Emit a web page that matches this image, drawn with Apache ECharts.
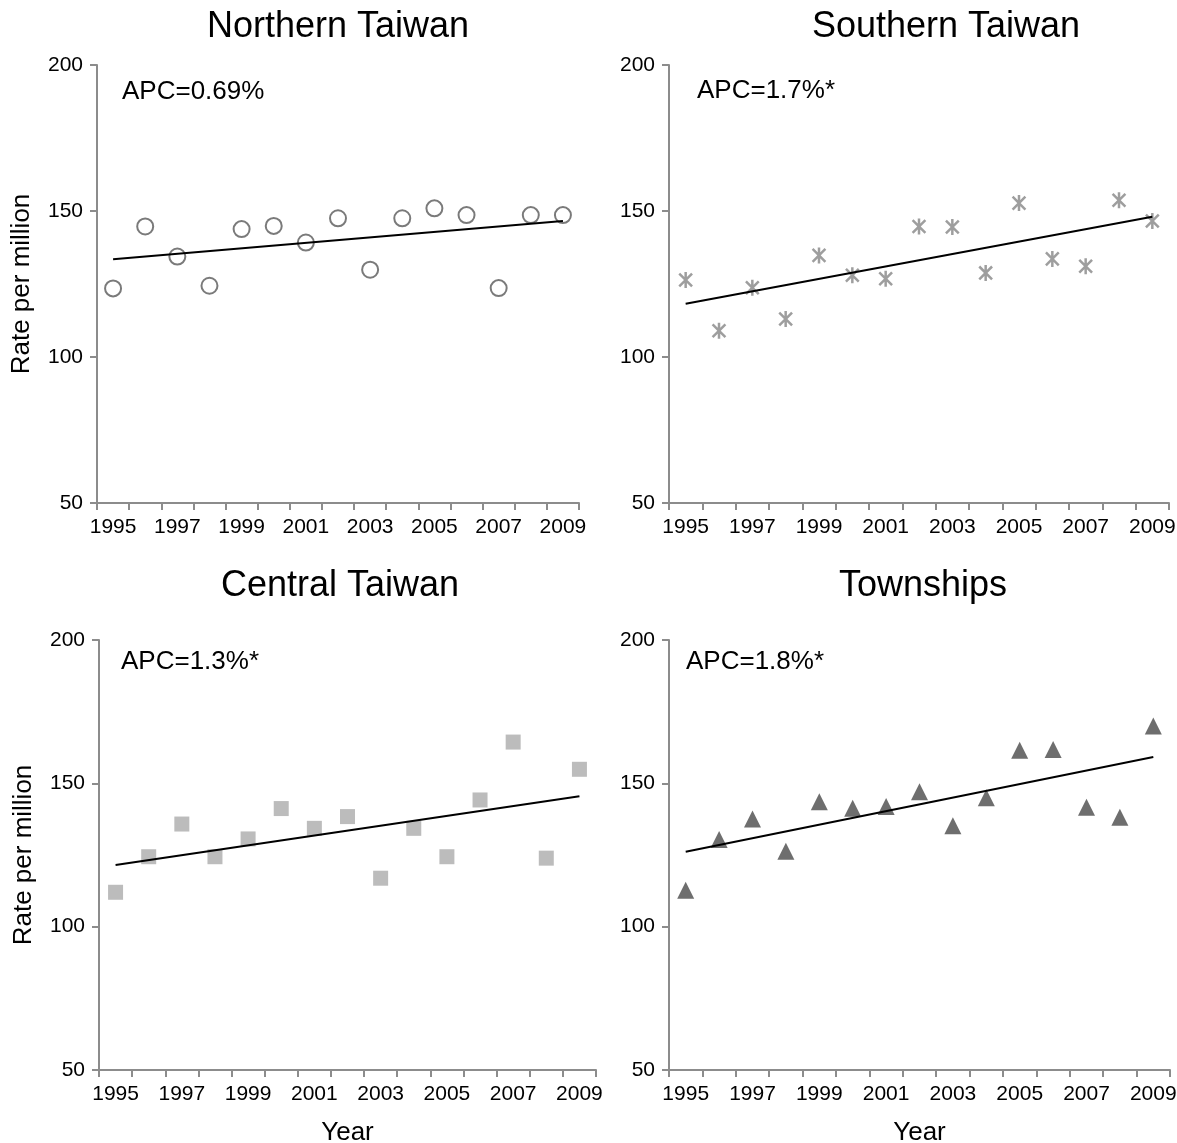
<!DOCTYPE html>
<html>
<head>
    <meta charset="utf-8" />
    <title>APC by region</title>
    <script src="https://cdn.jsdelivr.net/npm/echarts@6/dist/echarts.min.js"></script>
    <style>
    body { margin: 0; background: #fff; }
    #main { width: 1177px; height: 1143px; }
    </style>
</head>
<body>
    <div id="main"></div>
    <script type="text/javascript">
    // years on the x axis
    var years = ['1995', '1996', '1997', '1998', '1999', '2000', '2001', '2002',
                 '2003', '2004', '2005', '2006', '2007', '2008', '2009'];
    var yMin = 50, yMax = 200, yStep = 50;

    // rates per million
    var northern = [123.5, 144.7, 134.4, 124.4, 143.8, 144.9, 139.2, 147.5, 129.9, 147.5, 150.9, 148.6, 123.6, 148.6, 148.6];
    var southern = [126.4, 109.0, 123.7, 113.0, 134.8, 128.0, 126.8, 144.7, 144.5, 128.8, 152.7, 133.6, 131.1, 153.7, 146.6];
    var central  = [112.0, 124.4, 135.8, 124.4, 130.6, 141.2, 134.3, 138.4, 116.9, 134.3, 124.4, 144.2, 164.4, 123.9, 154.9];
    var township = [112.7, 130.4, 137.6, 126.3, 143.6, 141.3, 141.9, 147.1, 135.2, 145.0, 161.5, 161.8, 141.7, 138.2, 170.0];

    // fitted trend, value at 1995 and at 2009
    var northernTrend = [133.5, 146.6];
    var southernTrend = [118.2, 148.0];
    var centralTrend  = [121.5, 145.5];
    var townshipTrend = [126.1, 159.2];

    var titles = ['Northern Taiwan', 'Southern Taiwan', 'Central Taiwan', 'Townships'];
    var apcText = ['APC=0.69%', 'APC=1.7%*', 'APC=1.3%*', 'APC=1.8%*'];

    var FONT = '"Liberation Sans", Arial, sans-serif';
    var AXIS_COLOR = '#8c8c8c';

    var grids = [
        { left: 97,  top: 65,  width: 482, height: 438 },
        { left: 669, top: 65,  width: 500, height: 438 },
        { left: 99,  top: 640, width: 497, height: 430 },
        { left: 669, top: 640, width: 501, height: 430 }
    ];
    var titlePos = [[333, 4], [941, 4], [335, 563], [918, 563]];
    var apcPos = [[122, 79], [697, 78], [121, 649], [686, 649]];

    // star marker: vertical stroke plus an X
    var asterisk = 'path://M0,-10L0,10M-8,-8L8,8M-8,8L8,-8';

    var markers = [
        { symbol: 'emptyCircle', symbolSize: 16, itemStyle: { color: '#595959', borderColor: '#595959', borderWidth: 2 } },
        { symbol: asterisk, symbolSize: 16, itemStyle: { color: 'none', borderColor: '#868686', borderWidth: 2.5 } },
        { symbol: 'rect', symbolSize: 15, itemStyle: { color: '#ababab' } },
        { symbol: 'triangle', symbolSize: 17, itemStyle: { color: '#4a4a4a' } }
    ];
    var values = [northern, southern, central, township];
    var trends = [northernTrend, southernTrend, centralTrend, townshipTrend];

    var xAxes = [], yAxes = [], series = [], titleList = [], graphics = [];

    for (var i = 0; i < 4; i++) {
        grids[i].outerBoundsMode = 'none';
        xAxes.push({
            type: 'category',
            gridIndex: i,
            data: years,
            boundaryGap: true,
            name: i >= 2 ? 'Year' : '',
            nameLocation: 'middle',
            nameGap: 50,
            nameTextStyle: { fontFamily: FONT, fontSize: 26, color: '#000' },
            axisLine: { lineStyle: { color: AXIS_COLOR, width: 2 } },
            axisTick: { show: true, interval: 0, length: 7, lineStyle: { color: AXIS_COLOR, width: 2 } },
            axisLabel: { interval: 1, margin: 14, fontFamily: FONT, fontSize: 21, color: '#000' },
            splitLine: { show: false }
        });
        yAxes.push({
            type: 'value',
            gridIndex: i,
            min: yMin,
            max: yMax,
            interval: yStep,
            name: (i % 2 === 0) ? 'Rate per million' : '',
            nameLocation: 'middle',
            nameGap: 62,
            nameTextStyle: { fontFamily: FONT, fontSize: 26, color: '#000' },
            axisLine: { show: true, lineStyle: { color: AXIS_COLOR, width: 2 } },
            axisTick: { show: true, length: 7, lineStyle: { color: AXIS_COLOR, width: 2 } },
            axisLabel: { margin: 14, fontFamily: FONT, fontSize: 21, color: '#000' },
            splitLine: { show: false }
        });
        series.push({
            type: 'scatter',
            xAxisIndex: i,
            yAxisIndex: i,
            data: values[i],
            symbol: markers[i].symbol,
            symbolSize: markers[i].symbolSize,
            symbolKeepAspect: true,
            itemStyle: markers[i].itemStyle,
            z: 3
        });
        series.push({
            type: 'line',
            xAxisIndex: i,
            yAxisIndex: i,
            data: [[years[0], trends[i][0]], [years[years.length - 1], trends[i][1]]],
            symbol: 'none',
            lineStyle: { color: '#000', width: 2 },
            z: 4
        });
        titleList.push({
            text: titles[i],
            left: titlePos[i][0],
            top: titlePos[i][1],
            textAlign: 'center',
            textStyle: { fontFamily: FONT, fontSize: 36, fontWeight: 'normal', color: '#000' }
        });
        graphics.push({
            type: 'text',
            left: apcPos[i][0],
            top: apcPos[i][1],
            style: { text: apcText[i], fontFamily: FONT, fontSize: 26, fill: '#000' }
        });
    }

    var myChart = echarts.init(document.getElementById('main'));
    myChart.setOption({
        animation: false,
        backgroundColor: '#fff',
        title: titleList,
        grid: grids,
        xAxis: xAxes,
        yAxis: yAxes,
        series: series,
        graphic: graphics
    });
    </script>
</body>
</html>
